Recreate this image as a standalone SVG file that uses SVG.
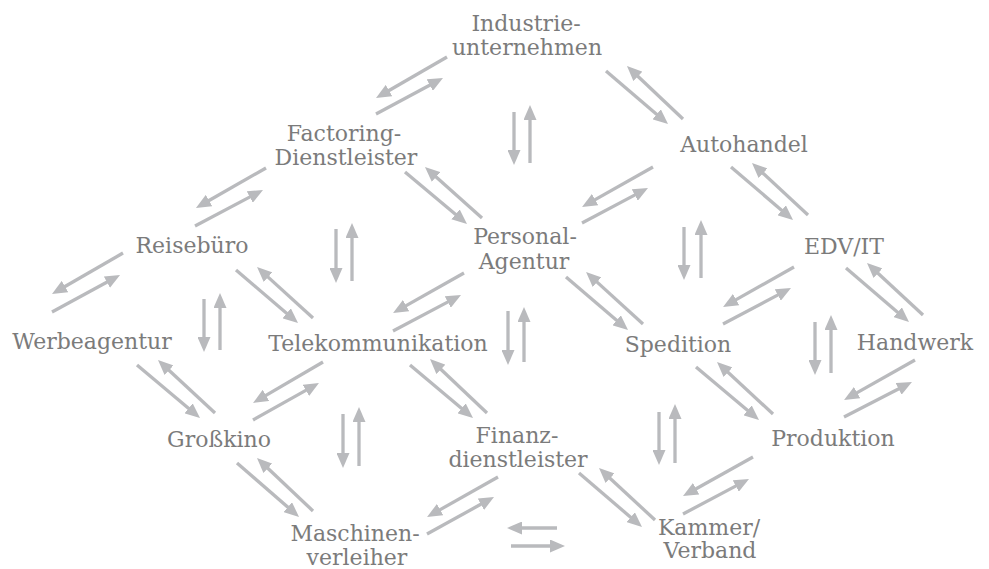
<svg xmlns="http://www.w3.org/2000/svg" width="989" height="569" viewBox="0 0 989 569">
<style>
.lbl{font-family:"DejaVu Serif","Liberation Serif",serif;font-size:22px;fill:#7b7b7b;text-anchor:middle}
.c line{stroke:#b9babd;stroke-width:3.3;fill:none;marker-end:url(#ah)}
</style>
<defs>
<marker id="ah" markerUnits="userSpaceOnUse" markerWidth="15" markerHeight="13" refX="3" refY="6.5" orient="auto">
<path d="M0,0 L15,6.5 L0,13 z" fill="#b9babd"/>
</marker>
</defs>
<rect width="989" height="569" fill="#ffffff"/>
<g id="connectors" class="c">
<line x1="447" y1="57" x2="386.4" y2="92"/>
<line x1="376" y1="114" x2="432.4" y2="83.7"/>
<line x1="606" y1="71" x2="658.9" y2="116.2"/>
<line x1="683" y1="119" x2="635.7" y2="74.3"/>
<line x1="514" y1="112" x2="514" y2="153"/>
<line x1="530" y1="163" x2="530" y2="117"/>
<line x1="266" y1="168" x2="206.4" y2="202"/>
<line x1="195" y1="226" x2="252.4" y2="195.6"/>
<line x1="405" y1="172" x2="457.8" y2="216.3"/>
<line x1="482" y1="218" x2="433.9" y2="175"/>
<line x1="653" y1="167" x2="592.5" y2="201.1"/>
<line x1="582" y1="223" x2="637.4" y2="193.6"/>
<line x1="731" y1="167" x2="783.9" y2="212.2"/>
<line x1="808" y1="215" x2="760.8" y2="171.2"/>
<line x1="336" y1="229" x2="336" y2="271"/>
<line x1="352" y1="281" x2="352" y2="235"/>
<line x1="123" y1="253" x2="62.4" y2="288"/>
<line x1="52" y1="312" x2="109.5" y2="280.7"/>
<line x1="236" y1="270" x2="288.9" y2="315.2"/>
<line x1="313" y1="318" x2="265.9" y2="275.1"/>
<line x1="204" y1="299" x2="204" y2="340"/>
<line x1="220" y1="350" x2="220" y2="305"/>
<line x1="464" y1="273" x2="403.5" y2="307.1"/>
<line x1="393" y1="331" x2="450.4" y2="300.6"/>
<line x1="566" y1="277" x2="618.9" y2="322.2"/>
<line x1="643" y1="324" x2="594.9" y2="280.1"/>
<line x1="684" y1="227" x2="684" y2="268"/>
<line x1="701" y1="278" x2="701" y2="232"/>
<line x1="794" y1="267" x2="733.5" y2="301.1"/>
<line x1="723" y1="324" x2="780.4" y2="293.6"/>
<line x1="846" y1="268" x2="899.9" y2="314.2"/>
<line x1="923" y1="315" x2="875.8" y2="271.2"/>
<line x1="508" y1="311" x2="508" y2="353"/>
<line x1="524" y1="362" x2="524" y2="319"/>
<line x1="137" y1="365" x2="190.8" y2="410.3"/>
<line x1="215" y1="413" x2="166.8" y2="368.2"/>
<line x1="323" y1="362" x2="263.4" y2="396.9"/>
<line x1="253" y1="420" x2="308.5" y2="388.9"/>
<line x1="410" y1="365" x2="463.8" y2="410.3"/>
<line x1="487" y1="413" x2="438.7" y2="367.3"/>
<line x1="696" y1="367" x2="749.8" y2="412.3"/>
<line x1="773" y1="414" x2="725.8" y2="370.2"/>
<line x1="815" y1="322" x2="815" y2="363"/>
<line x1="831" y1="373" x2="831" y2="327"/>
<line x1="915" y1="360" x2="854.5" y2="394.1"/>
<line x1="844" y1="417" x2="901.3" y2="387.5"/>
<line x1="237" y1="463" x2="290" y2="509.1"/>
<line x1="313" y1="511" x2="265.7" y2="466.2"/>
<line x1="343" y1="414" x2="343" y2="456"/>
<line x1="359" y1="466" x2="359" y2="419"/>
<line x1="498" y1="477" x2="437.5" y2="511.1"/>
<line x1="427" y1="534" x2="483.5" y2="502.8"/>
<line x1="659" y1="412" x2="659" y2="453"/>
<line x1="675" y1="463" x2="675" y2="416"/>
<line x1="579" y1="473" x2="632.9" y2="519.2"/>
<line x1="655" y1="520" x2="607.8" y2="476.2"/>
<line x1="753" y1="457" x2="693.5" y2="490.2"/>
<line x1="683" y1="514" x2="738.4" y2="484.6"/>
<line x1="557" y1="528" x2="519" y2="528"/>
<line x1="511" y1="546" x2="553" y2="546"/>
</g>
<g id="industrie"><text class="lbl" x="526" y="31">Industrie-</text><text class="lbl" x="527" y="55">unternehmen</text></g>
<g id="factoring"><text class="lbl" x="344" y="141">Factoring-</text><text class="lbl" x="346" y="165">Dienstleister</text></g>
<g id="autohandel"><text class="lbl" x="744" y="152">Autohandel</text></g>
<g id="reisebuero"><text class="lbl" x="192" y="253">Reisebüro</text></g>
<g id="personal"><text class="lbl" x="525" y="244">Personal-</text><text class="lbl" x="524" y="269">Agentur</text></g>
<g id="edv"><text class="lbl" x="844" y="254">EDV/IT</text></g>
<g id="werbeagentur"><text class="lbl" x="92" y="349">Werbeagentur</text></g>
<g id="telekom"><text class="lbl" x="378" y="351">Telekommunikation</text></g>
<g id="spedition"><text class="lbl" x="678" y="352">Spedition</text></g>
<g id="handwerk"><text class="lbl" x="915" y="350">Handwerk</text></g>
<g id="grosskino"><text class="lbl" x="219" y="447">Großkino</text></g>
<g id="finanz"><text class="lbl" x="517" y="443">Finanz-</text><text class="lbl" x="518" y="467">dienstleister</text></g>
<g id="produktion"><text class="lbl" x="833" y="446">Produktion</text></g>
<g id="maschinen"><text class="lbl" x="355" y="541">Maschinen-</text><text class="lbl" x="357" y="565">verleiher</text></g>
<g id="kammer"><text class="lbl" x="709" y="535">Kammer/</text><text class="lbl" x="710" y="558">Verband</text></g>
</svg>
